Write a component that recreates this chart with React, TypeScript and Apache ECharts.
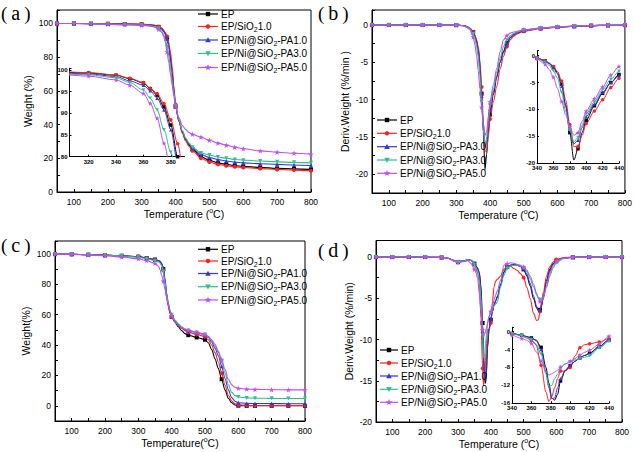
import React, { useEffect, useRef } from "react";
import * as echarts from "echarts";

// ---------- data ----------
const TA = [50,100,150,200,250,300,320,340,350,360,365,370,375,380,385,390,395,400,410,420,430,440,450,475,500,525,550,575,600,650,700,750,800];
const EP_A = [100,100,99.9,99.8,99.7,99.5,99.3,98.8,98.0,97.0,95.7,94.2,91.5,87.3,80.0,71.0,60.5,50.7,42.0,35.5,31.0,27.8,25.3,21.0,18.8,17.3,16.4,15.7,15.2,14.6,14.0,13.7,13.4];
const SIO_A = [100,100,99.9,99.8,99.7,99.6,99.4,98.85,98.1,97.1,95.8,94.6,92.3,88.5,83.0,74.5,63.0,52.0,42.0,35.0,30.3,27.0,24.5,20.0,17.8,16.4,15.6,15.0,14.5,13.9,13.4,13.0,12.6];
const PA1_A = [100,100,99.9,99.7,99.5,99.3,99.1,98.5,97.5,96.5,95.2,93.5,90.8,86.2,78.5,70.0,60.0,50.5,42.5,36.0,31.5,28.5,26.0,22.3,20.5,19.2,18.4,17.7,17.3,16.8,16.4,16.0,15.7];
const PA3_A = [100,100,99.8,99.6,99.4,99.1,98.9,98.2,97.1,95.4,93.5,90.8,86.2,81.0,74.0,66.5,58.5,51.0,43.0,36.5,32.0,29.0,26.5,23.2,21.9,20.8,20.0,19.3,18.9,18.4,17.9,17.6,17.3];
const PA5_A = [100,100,99.8,99.5,99.2,98.9,98.6,97.7,96.5,94.6,92.3,88.9,83.1,77.0,70.0,63.5,57.0,50.5,44.0,39.5,37.0,35.3,34.2,32.6,30.7,29.0,27.8,26.6,25.7,24.4,23.6,23.0,22.5];

const TB = [50,100,150,200,250,300,320,330,340,350,355,360,365,370,375,380,385,390,395,400,410,420,430,440,450,460,470,480,500,550,600,650,700,750,800];
const EP_B = [0,0,0,0,0,-0.02,-0.08,-0.2,-0.45,-0.95,-1.4,-2.1,-3.2,-5.3,-9.2,-14.3,-19.4,-17.3,-14.3,-12.0,-9.3,-7.0,-5.0,-3.5,-2.4,-1.7,-1.3,-1.05,-0.75,-0.45,-0.28,-0.17,-0.09,-0.04,-0.01];
const SIO_B = [0,0,0,0,0,-0.02,-0.07,-0.18,-0.4,-0.9,-1.4,-2.0,-2.9,-4.7,-8.3,-12.8,-16.9,-16.9,-14.8,-12.6,-10.3,-8.2,-5.9,-4.2,-2.9,-2.0,-1.5,-1.2,-0.85,-0.5,-0.3,-0.18,-0.1,-0.05,-0.01];
const PA1_B = [0,0,0,0,0,-0.02,-0.08,-0.2,-0.45,-1.0,-1.5,-2.3,-3.4,-5.7,-9.5,-13.6,-16.4,-15.7,-13.4,-11.3,-9.0,-6.8,-5.0,-3.7,-2.5,-1.7,-1.3,-1.05,-0.75,-0.45,-0.28,-0.17,-0.09,-0.04,-0.01];
const PA3_B = [0,0,0,0,0,-0.03,-0.1,-0.25,-0.5,-1.2,-1.8,-2.8,-4.2,-6.8,-10.3,-13.8,-16.0,-15.2,-12.9,-10.8,-8.6,-6.3,-4.4,-2.9,-2.0,-1.45,-1.15,-0.95,-0.7,-0.42,-0.26,-0.15,-0.08,-0.03,-0.01];
const PA5_B = [0,0,0,0,0,-0.04,-0.12,-0.3,-0.6,-1.6,-2.6,-4.0,-6.1,-8.5,-11.0,-13.2,-14.8,-14.3,-12.2,-10.3,-8.0,-5.8,-3.6,-2.0,-1.4,-1.1,-0.95,-0.85,-0.65,-0.4,-0.25,-0.15,-0.08,-0.03,0];

const TC = [50,100,150,200,250,300,325,350,360,365,370,375,380,385,390,395,400,410,420,430,440,450,475,500,510,520,530,540,550,560,570,580,590,600,625,650,700,750,800];
const EP_C = [100,99.8,99.5,99.2,98.8,98.2,97.3,96.3,95.6,95.0,93.5,90.0,82.0,72.0,66.0,61.0,58.5,55.0,52.0,49.5,47.5,46.5,45.0,43.5,41.5,37.0,31.0,24.5,17.5,10.5,5.0,2.0,0.5,0.1,0,0,0,0,0];
const SIO_C = [100,99.8,99.5,99.2,98.8,98.2,97.3,96.2,95.4,94.6,92.8,89.0,81.0,71.5,65.5,61.0,58.5,55.5,53.0,51.0,49.5,48.5,47.0,45.5,43.5,40.0,35.0,29.0,21.5,13.5,7.0,3.2,1.3,0.6,0.3,0.2,0.2,0.2,0.2];
const PA1_C = [100,99.8,99.5,99.2,98.8,98.1,97.2,96.2,95.6,95.1,93.8,90.8,84.0,74.0,67.5,62.5,59.5,56.0,53.5,51.5,50.0,49.2,48.2,46.8,45.0,42.0,38.0,33.0,26.0,18.0,10.5,5.5,3.0,2.0,1.6,1.5,1.5,1.4,1.4];
const PA3_C = [100,99.8,99.5,99.1,98.6,97.8,96.8,95.5,94.8,94.0,92.3,88.5,81.5,73.0,67.5,63.0,60.0,56.5,54.0,52.0,50.5,49.5,48.3,47.0,45.5,43.0,39.5,35.0,29.0,21.5,14.0,9.0,6.7,5.8,5.2,5.0,4.9,4.8,4.8];
const PA5_C = [100,99.7,99.3,98.8,98.0,96.8,95.6,93.8,92.0,89.5,86.0,82.0,76.5,71.0,66.5,62.5,59.5,55.5,53.0,51.5,50.5,49.8,48.5,47.0,45.8,43.5,40.5,36.0,30.5,24.0,17.5,13.8,12.2,11.5,11.0,10.8,10.6,10.5,10.5];

const TD = [50,100,150,200,250,270,280,290,300,310,320,330,340,350,355,360,365,370,375,378,381,384,387,390,395,400,405,410,415,420,430,440,450,460,470,480,490,500,510,520,530,540,545,550,555,560,570,580,590,600,620,650,700,750,800];
const EP_D = [0,0,0,0,-0.05,-0.15,-0.3,-0.5,-0.6,-0.5,-0.45,-0.35,-0.4,-0.8,-1.1,-1.4,-1.9,-3.5,-8.0,-11.5,-14.8,-15.3,-14.0,-11.0,-8.7,-7.6,-6.6,-5.8,-5.3,-4.8,-3.3,-1.8,-1.2,-1.0,-0.95,-1.0,-1.15,-1.5,-2.3,-3.5,-5.0,-6.2,-6.5,-6.4,-5.8,-4.8,-2.8,-1.5,-0.8,-0.45,-0.15,-0.03,0,0,0];
const SIO_D = [0,0,0,0,-0.05,-0.15,-0.3,-0.5,-0.6,-0.5,-0.45,-0.35,-0.45,-0.9,-1.4,-2.0,-3.0,-7.5,-13.5,-15.6,-14.5,-12.5,-10.5,-8.8,-8.8,-8.0,-5.4,-3.6,-2.9,-2.7,-2.3,-1.5,-1.2,-1.1,-1.4,-1.6,-2.0,-2.5,-3.7,-5.0,-6.8,-7.7,-7.6,-6.6,-5.4,-4.3,-2.3,-1.2,-0.6,-0.3,-0.1,0,0,0,0];
const PA1_D = [0,0,0,0,-0.05,-0.15,-0.3,-0.5,-0.6,-0.5,-0.45,-0.35,-0.4,-0.8,-1.1,-1.4,-2.0,-4.0,-9.0,-12.5,-15.0,-14.8,-12.5,-10.5,-8.6,-7.5,-6.6,-5.8,-5.3,-4.9,-3.4,-1.9,-1.2,-1.0,-0.9,-0.95,-1.1,-1.4,-2.1,-3.2,-4.7,-6.0,-6.4,-6.4,-5.9,-5.0,-3.1,-1.7,-0.9,-0.5,-0.15,-0.03,0,0,0];
const PA3_D = [0,0,0,0,-0.05,-0.15,-0.3,-0.5,-0.6,-0.5,-0.45,-0.35,-0.45,-0.9,-1.3,-1.8,-2.8,-5.0,-9.5,-12.2,-12.0,-10.5,-9.5,-8.0,-7.2,-6.8,-6.3,-5.9,-5.7,-5.4,-3.6,-2.2,-1.4,-1.1,-1.0,-1.0,-1.1,-1.3,-1.8,-2.6,-3.6,-4.6,-5.0,-5.15,-5.1,-4.8,-3.7,-2.3,-1.3,-0.7,-0.2,-0.05,0,0,0];
const PA5_D = [0,0,0,0,-0.05,-0.18,-0.35,-0.55,-0.7,-0.6,-0.55,-0.45,-0.8,-1.5,-1.9,-2.6,-4.5,-6.5,-8.8,-9.7,-9.4,-9.0,-8.6,-8.0,-7.2,-6.6,-6.0,-5.2,-4.6,-4.1,-2.8,-1.0,-0.8,-0.7,-0.75,-0.9,-1.0,-1.2,-1.6,-2.3,-3.3,-4.4,-5.0,-5.4,-5.4,-5.0,-3.5,-2.0,-1.0,-0.5,-0.15,-0.03,0,0,0];

const LEGEND_STD = ["EP", "EP/SiO{s|2}1.0", "EP/Ni@SiO{s|2}-PA1.0", "EP/Ni@SiO{s|2}-PA3.0", "EP/Ni@SiO{s|2}-PA5.0"];
const LEGEND_B = ["EP", "EP/SiO{s|2}1.0", "EP/Ni@SiO{s|2}-PA3.0", "EP/Ni@SiO{s|2}-PA3.0", "EP/Ni@SiO{s|2}-PA5.0"];

// ---------- styles ----------
const FONT = "'Liberation Sans', Arial, sans-serif";
const COLORS = ["#000000", "#ff1f1f", "#3535d8", "#2fbf8c", "#c04ef0"];
const STAR = "path://M5,0L6.2,3.6L10,3.6L6.9,5.9L8.1,9.6L5,7.4L1.9,9.6L3.1,5.9L0,3.6L3.8,3.6Z";
const SYMS = ["rect", "circle", "triangle", "path://M0,0L10,0L5,9Z", STAR];

function nameStyle(fs: number) {
  return {
    color: "#000", fontSize: fs, fontFamily: FONT, lineHeight: 14,
    rich: { sup: { fontSize: 7, fontFamily: FONT, verticalAlign: "top", color: "#000" } },
  };
}

function baseAxis(gi: number, fs: number, bold: boolean, tickLen: number) {
  return {
    type: "value", gridIndex: gi,
    axisLine: { show: true, onZero: false, lineStyle: { color: "#000", width: 1 } },
    axisTick: { show: true, inside: true, length: tickLen, lineStyle: { color: "#000", width: 1 } },
    axisLabel: { color: "#000", fontSize: fs, fontFamily: FONT, fontWeight: bold ? "bold" : "normal", margin: 4 },
    splitLine: { show: false },
  };
}

function mainX(gi: number, name: string, gap: number) {
  const a: any = baseAxis(gi, 8.5, false, 3);
  a.min = 50; a.max = 800; a.interval = 50; a.position = "bottom";
  a.axisLabel.margin = 5;
  a.axisLabel.formatter = (v: number) => (v % 100 === 0 ? String(v) : "");
  a.name = name; a.nameLocation = "middle"; a.nameGap = gap; a.nameTextStyle = nameStyle(10.5);
  return a;
}
function mainY(gi: number, min: number, max: number, interval: number, step: number, name: string, gap: number) {
  const a: any = baseAxis(gi, 8.5, false, 3);
  a.min = min; a.max = max; a.interval = interval; a.position = "left";
  a.axisLabel.formatter = (v: number) => (Math.abs(v % step) < 1e-6 && v >= min && v <= max - 1e-6 ? String(Math.round(v)) : "");
  a.name = name; a.nameLocation = "middle"; a.nameGap = gap; a.nameTextStyle = nameStyle(10.5);
  return a;
}

function mkSeries(gi: number, T: number[], vals: number[], k: number, show: (t: number) => boolean, size: number, lw: number) {
  return {
    type: "line", xAxisIndex: gi, yAxisIndex: gi, silent: true, clip: true,
    smooth: 0.3, smoothMonotone: "x",
    symbol: SYMS[k], symbolSize: k === 4 ? size + 1.5 : size, showSymbol: true,
    data: T.map((t, i) => ({ value: [t, vals[i]], symbol: show(t) ? SYMS[k] : "none" })),
    lineStyle: { color: COLORS[k], width: lw },
    itemStyle: { color: COLORS[k] },
    z: 2 + k,
  };
}

function legendMarker(k: number, cx: number, cy: number) {
  const c = COLORS[k];
  const s = 2.2;
  if (k === 0) return { type: "rect", shape: { x: cx - s, y: cy - s, width: 2 * s, height: 2 * s }, style: { fill: c } };
  if (k === 1) return { type: "circle", shape: { cx, cy, r: s }, style: { fill: c } };
  if (k === 2) return { type: "polygon", shape: { points: [[cx, cy - 2.8], [cx + 2.8, cy + 2.2], [cx - 2.8, cy + 2.2]] }, style: { fill: c } };
  if (k === 3) return { type: "polygon", shape: { points: [[cx - 2.8, cy - 2.2], [cx + 2.8, cy - 2.2], [cx, cy + 2.8]] }, style: { fill: c } };
  const pts: number[][] = [];
  for (let i = 0; i < 10; i++) {
    const r = i % 2 === 0 ? 3.3 : 1.4;
    const a = -Math.PI / 2 + (i * Math.PI) / 5;
    pts.push([cx + r * Math.cos(a), cy + r * Math.sin(a)]);
  }
  return { type: "polygon", shape: { points: pts }, style: { fill: c } };
}

function legend(x0: number, x1: number, xt: number, ys: number[], labels: string[], fs: number) {
  const els: any[] = [];
  ys.forEach((y, k) => {
    els.push({ type: "line", shape: { x1: x0, y1: y, x2: x1, y2: y }, style: { stroke: COLORS[k], lineWidth: 1.2 }, z: 10 });
    els.push({ ...legendMarker(k, (x0 + x1) / 2, y), z: 11 });
    els.push({
      type: "text", x: xt, y, z: 11,
      style: {
        text: labels[k], fill: "#000", fontSize: fs, fontFamily: FONT, align: "left", verticalAlign: "middle", lineHeight: 13,
        rich: { s: { fontSize: 7, fontFamily: FONT, fill: "#000", verticalAlign: "bottom" } },
      },
    });
  });
  return els;
}

function panelLabel(letter: string, x: number, y: number) {
  return {
    type: "text", x, y, z: 12,
    style: {
      text: "{p|(}{l|" + letter + "}{p|)}", fill: "#000", align: "left", verticalAlign: "middle",
      rich: {
        p: { fontSize: 19, fontFamily: "'Liberation Serif', serif", fill: "#000" },
        l: { fontSize: 20, fontFamily: "'Liberation Serif', serif", fill: "#000", padding: [0, 4, 0, 4] },
      },
    },
  };
}

function buildOption() {
  const grids = [
    { left: 57, top: 10, width: 254, height: 182 },
    { left: 372, top: 10, width: 254, height: 183 },
    { left: 55, top: 241, width: 250, height: 180 },
    { left: 376, top: 240.5, width: 246, height: 182 },
    { left: 69.5, top: 68.3, width: 115, height: 88.4 },
    { left: 537, top: 50.3, width: 82, height: 113 },
    { left: 512, top: 327.2, width: 97, height: 76.1 },
  ].map((g, i) => ({ ...g, show: i < 4, borderColor: "#000", borderWidth: 1, containLabel: false }));

  const tempName = "Temperature ({sup|o}C)";
  const xAxis: any[] = [
    mainX(0, tempName, 14),
    mainX(1, tempName, 14),
    mainX(2, "Temperature({sup|o}C)", 15),
    mainX(3, tempName, 15),
  ];
  const yAxis: any[] = [
    mainY(0, 0, 108, 10, 20, "Weight (%)", 19),
    mainY(1, -22.5, 2, 2.5, 5, "Deriv.Weight (%/min )", 15),
    mainY(2, -10, 108.5, 10, 20, "Weight(%)", 16),
    mainY(3, -20, 2, 2.5, 5, "Deriv.Weight (%/min)", 17),
  ];
  // insets
  const ixA: any = baseAxis(4, 6, true, 2);
  ixA.min = 306; ixA.max = 390;
  ixA.axisLabel.margin = 2;
  ixA.axisLabel.customValues = [320, 340, 360, 380];
  ixA.axisTick.customValues = [320, 340, 360, 380];
  const iyA: any = baseAxis(4, 6, true, 2);
  iyA.min = 80; iyA.max = 100.4; iyA.interval = 5; iyA.axisLabel.margin = 2;
  iyA.axisLabel.formatter = (v: number) => (v % 5 === 0 ? String(v) : "");
  const ixB: any = baseAxis(5, 6, true, 2);
  ixB.min = 340; ixB.max = 440; ixB.interval = 20; ixB.axisLabel.margin = 2;
  const iyB: any = baseAxis(5, 6, true, 2);
  iyB.min = -20; iyB.max = 1; iyB.interval = 5; iyB.axisLabel.margin = 2;
  iyB.axisLabel.formatter = (v: number) => (v % 5 === 0 ? String(v) : "");
  const ixD: any = baseAxis(6, 6, true, 2);
  ixD.min = 340; ixD.max = 440; ixD.interval = 20; ixD.axisLabel.margin = 2;
  const iyD: any = baseAxis(6, 6, true, 2);
  iyD.min = -16; iyD.max = 1; iyD.interval = 4; iyD.axisLabel.margin = 2;
  iyD.axisLabel.formatter = (v: number) => (v % 4 === 0 ? String(v) : "");
  xAxis.push(ixA, ixB, ixD);
  yAxis.push(iyA, iyB, iyD);

  const A = [EP_A, SIO_A, PA1_A, PA3_A, PA5_A];
  const B = [EP_B, SIO_B, PA1_B, PA3_B, PA5_B];
  const C = [EP_C, SIO_C, PA1_C, PA3_C, PA5_C];
  const D = [EP_D, SIO_D, PA1_D, PA3_D, PA5_D];
  const every25 = (t: number) => t % 25 === 0;
  const all = (_t: number) => true;
  const every10 = (t: number) => t % 10 === 0;
  const series: any[] = [];
  for (let k = 0; k < 5; k++) {
    series.push(mkSeries(0, TA, A[k], k, every25, 4, 1.1));
    series.push(mkSeries(1, TB, B[k], k, every25, 4, 1.1));
    series.push(mkSeries(2, TC, C[k], k, every25, 4, 1.1));
    series.push(mkSeries(3, TD, D[k], k, every25, 4, 1.1));
    series.push(mkSeries(4, TA, A[k], k, all, 3.5, 1));
    series.push(mkSeries(5, TB, B[k], k, every10, 3.5, 1));
    series.push(mkSeries(6, TD, D[k], k, every10, 3.5, 1));
  }

  const graphic: any[] = [
    ...legend(198, 218, 221, [14, 26.5, 40, 53.5, 67.5], LEGEND_STD, 10),
    ...legend(377, 397, 400, [120, 133.3, 146.7, 160, 173.3], LEGEND_B, 10),
    ...legend(198, 218, 221, [249.3, 261, 273.5, 286.7, 300], LEGEND_STD, 10),
    ...legend(380, 398, 401, [350, 363, 376, 389.3, 402.3], LEGEND_STD, 10),
    panelLabel("a", 1, 13),
    panelLabel("b", 318, 13),
    panelLabel("c", 1, 245),
    panelLabel("d", 318, 250),
  ];

  return { animation: false, backgroundColor: "#fff", grid: grids, xAxis, yAxis, series, graphic };
}

export default function App() {
  const ref = useRef<HTMLDivElement>(null);
  useEffect(() => {
    const chart = echarts.init(ref.current!, null, { renderer: "svg" });
    chart.setOption(buildOption() as any);
    return () => chart.dispose();
  }, []);
  return <div ref={ref} style={{ position: "fixed", left: 0, top: 0, width: 635, height: 452, background: "#fff" }} />;
}
